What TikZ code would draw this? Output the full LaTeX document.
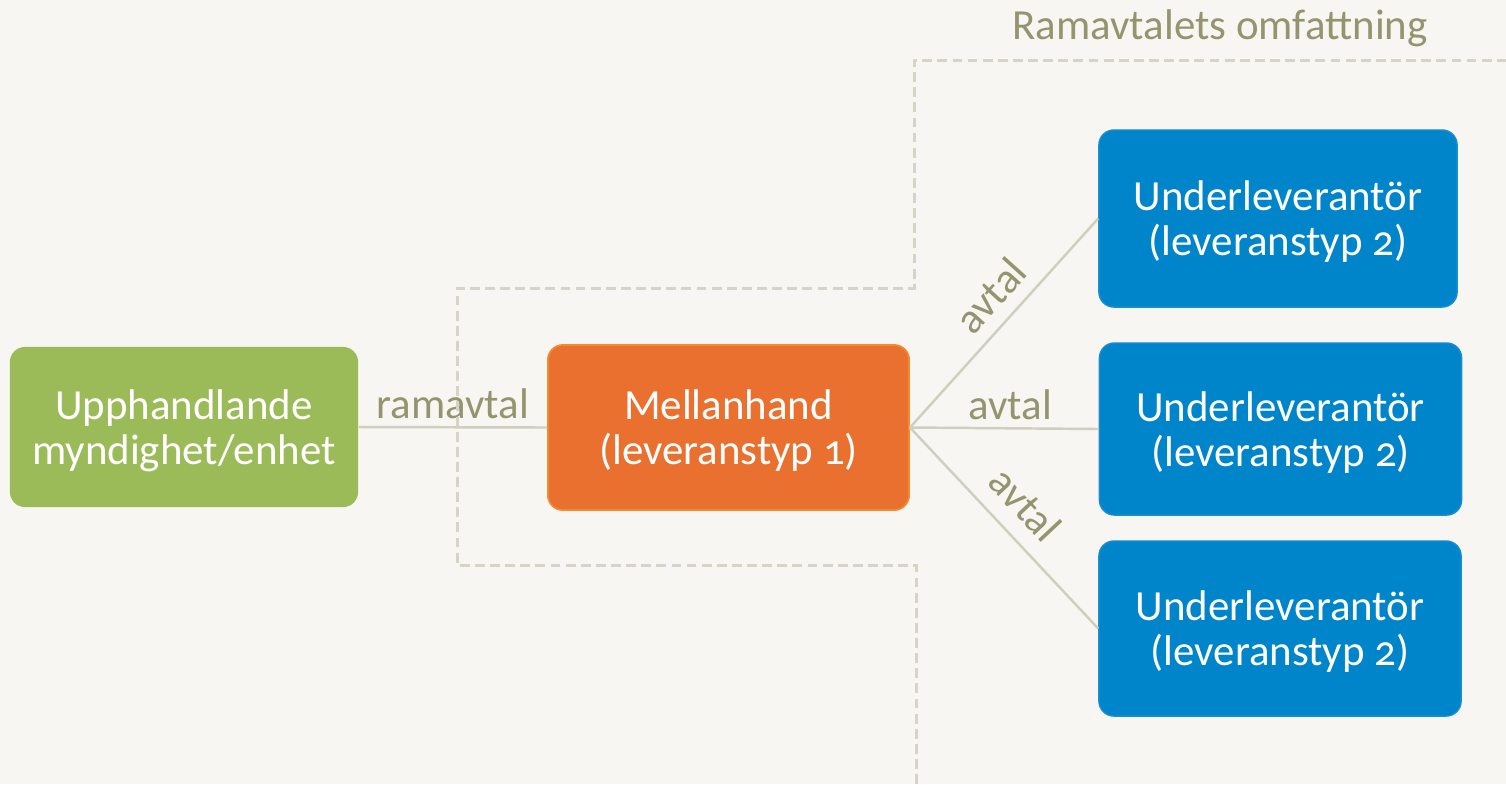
\documentclass[tikz,border=0pt]{standalone}
\usepackage{fontspec}
\setmainfont{Carlito}[Numbers=OldStyle]
\usetikzlibrary{positioning}
\definecolor{bgColor}{HTML}{F7F6F2}
\definecolor{buyerGreen}{HTML}{9BBB59}
\definecolor{brokerOrange}{HTML}{E9702F}
\definecolor{brokerEdge}{HTML}{F28B30}
\definecolor{supplierBlue}{HTML}{0084CA}
\definecolor{supplierEdge}{HTML}{1A8ECF}
\definecolor{linkColor}{HTML}{CFCFBF}
\definecolor{scopeColor}{HTML}{D5D4C6}
\definecolor{labelColor}{HTML}{94956F}

\begin{document}
\begin{tikzpicture}[x=0.01cm, y=-0.01cm,
    every node/.style={align=center, inner sep=0pt, font=\fontsize{12.2}{12.8}\selectfont},
    partybox/.style={rectangle, rounded corners=0.15cm, text=white, text depth=0pt},
    buyer/.style={partybox, fill=buyerGreen, minimum width=3.48cm, minimum height=1.6cm},
    broker/.style={partybox, fill=brokerOrange, draw=brokerEdge, line width=0.5pt, minimum width=3.61cm, minimum height=1.65cm},
    supplier/.style={partybox, fill=supplierBlue, draw=supplierEdge, line width=0.4pt, minimum width=3.62cm, minimum height=1.75cm},
    link/.style={draw=linkColor, line width=0.7pt},
    linklabel/.style={text=labelColor, inner sep=2pt},
    scopeline/.style={draw=scopeColor, line width=0.85pt, dash pattern=on 2.8pt off 1.5pt}
  ]

    % Background and page size
    \fill[bgColor] (0,0) rectangle (1506,784);
    \useasboundingbox (0,0) rectangle (1506,784);

    % Parties
    \node[buyer] (Buyer) at (184,427) {Upphandlande\\myndighet/enhet};
    \node[broker] (Broker) at (728.5,427.5) {Mellanhand\\(leveranstyp 1)};
    \node[supplier, minimum width=3.58cm, minimum height=1.77cm] (Sub1) at (1278,218.5) {Underleverantör\\(leveranstyp 2)};
    \node[supplier, minimum height=1.72cm] (Sub2) at (1280.5,429) {Underleverantör\\(leveranstyp 2)};
    \node[supplier] (Sub3) at (1280,628.5) {Underleverantör\\(leveranstyp 2)};

    % Agreements
    \draw[link] (Buyer.east) -- node[linklabel, above] {ramavtal} (Broker.west);
    \draw[link] (Broker.east) -- node[linklabel, pos=0.54, sloped, above=1.5pt] {avtal} (Sub1.west);
    \draw[link] (Broker.east) -- node[linklabel, pos=0.53, above] {avtal} (Sub2.west);
    \draw[link] (Broker.east) -- node[linklabel, pos=0.49, sloped, above=2.5pt] {avtal} (Sub3.west);

    % Scope of the framework agreement
    \draw[scopeline] (916,784) -- (916,565) -- (457,565) -- (457,288) -- (914,288) -- (914,60) -- (1506,60);
    \node[text=labelColor] (ScopeTitle) at (1220,28) {Ramavtalets omfattning};

\end{tikzpicture}
\end{document}
